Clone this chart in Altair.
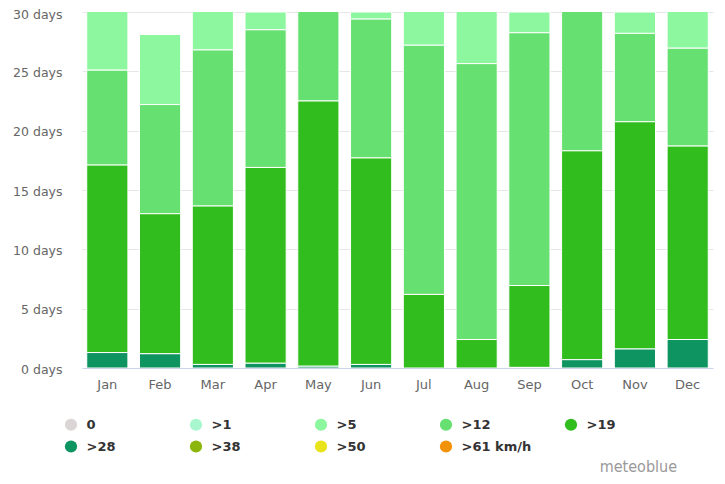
import altair as alt
import pandas as pd

months = ["Jan", "Feb", "Mar", "Apr", "May", "Jun", "Jul", "Aug", "Sep", "Oct", "Nov", "Dec"]
categories = ["0", ">1", ">5", ">12", ">19", ">28", ">38", ">50", ">61 km/h"]
colors = ["#dcd5d5", "#a9f7cf", "#8cf79e", "#66e070", "#31bd1e", "#0e9461", "#8db60c", "#e8e31a", "#f29208"]

# days per month in each wind-speed class
v0 = [0, 0, 0, 0, 0, 0, 0, 0, 0, 0, 0, 0]
v1 = [0, 0, 0, 0, 0, 0, 0, 0, 0, 0, 0, 0]
v5 = [5.9, 5.9, 4.2, 1.5, 0, 0.6, 3.8, 5.35, 1.75, 0, 1.8, 4.05]
v12 = [8.0, 9.2, 13.15, 11.6, 8.5, 11.7, 21.0, 23.25, 21.3, 12.7, 7.45, 8.25]
v19 = [15.8, 11.8, 13.35, 16.5, 22.35, 17.4, 6.2, 2.4, 6.9, 17.6, 19.15, 16.3]
v28 = [1.3, 1.2, 0.3, 0.4, 0.15, 0.3, 0, 0, 0.05, 0.7, 1.6, 2.4]
v38 = [0, 0, 0, 0, 0, 0, 0, 0, 0, 0, 0, 0]
v50 = [0, 0, 0, 0, 0, 0, 0, 0, 0, 0, 0, 0]
v61 = [0, 0, 0, 0, 0, 0, 0, 0, 0, 0, 0, 0]

series = [v0, v1, v5, v12, v19, v28, v38, v50, v61]
rows = []
for ci, (cat, vals) in enumerate(zip(categories, series)):
    for m, v in zip(months, vals):
        if v > 0:
            rows.append({"month": m, "cat": cat, "days": v, "ord": len(categories) - ci})
df = pd.DataFrame(rows)

bars = alt.Chart(df).mark_bar(clip=True, stroke="white", strokeWidth=1).encode(
    x=alt.X("month:N", sort=months, title=None,
            scale=alt.Scale(paddingInner=0.22, paddingOuter=0.09),
            axis=alt.Axis(labelAngle=0, ticks=False, domainColor="#ccd6eb", labelColor="#666666",
                          labelFont="DejaVu Sans", labelFontSize=13, labelPadding=10, grid=False)),
    y=alt.Y("days:Q", stack="zero", title=None,
            scale=alt.Scale(domain=[0, 30], nice=False),
            axis=alt.Axis(values=[0, 5, 10, 15, 20, 25, 30], labelExpr="datum.value + ' days'",
                          ticks=False, domain=False, gridColor="#e6e6e6", labelColor="#666666",
                          labelFont="DejaVu Sans", labelFontSize=12.5, labelPadding=20,
                          labelOffset={"condition": {"test": "datum.value >= 30", "value": 2.5},
                                       "value": 1})),
    color=alt.Color("cat:N", scale=alt.Scale(domain=categories, range=colors),
                    legend=alt.Legend(title=None, orient="none", legendX=-17.5, legendY=406,
                                      columns=5, direction="horizontal", gridAlign="all",
                                      columnPadding=33, rowPadding=8,
                                      symbolType="circle", symbolSize=150, symbolStrokeWidth=0,
                                      labelFont="DejaVu Sans", labelFontWeight="bold",
                                      labelFontSize=13, labelColor="#333333", labelOffset=9,
                                      padding=0)),
    order=alt.Order("ord:Q", sort="ascending"),
)

credit = alt.Chart(pd.DataFrame({"t": ["meteoblue"]})).mark_text(
    align="right", baseline="middle", font="DejaVu Sans Condensed", fontSize=16, color="#999999"
).encode(x=alt.value(595), y=alt.value(455), text="t:N")

chart = alt.layer(bars, credit).properties(
    width=631, height=356,
    autosize=alt.AutoSizeParams(type="none"),
    padding={"left": 74, "top": 4, "right": 4, "bottom": 108},
).configure_view(stroke=None)

chart.save("out.html", embed_options={"renderer": "svg", "actions": False})
